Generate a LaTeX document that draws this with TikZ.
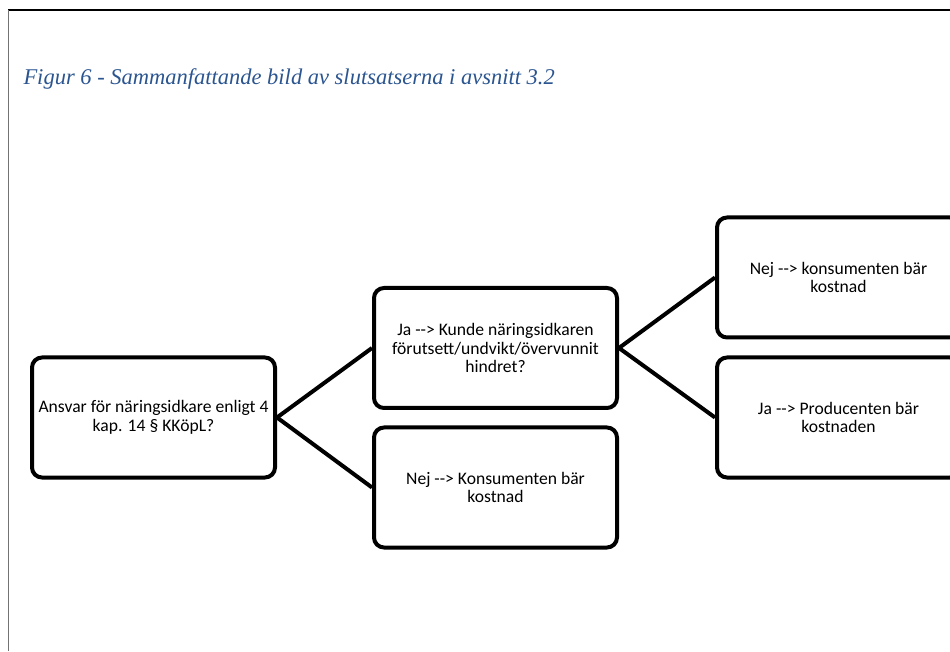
\documentclass[tikz,border=0pt]{standalone}
\usepackage{fontspec}
\setmainfont{Carlito}
\newfontfamily\captionfont{Liberation Serif}
\usepackage{tikz}
\usetikzlibrary{positioning}
\usepackage{xcolor}
\definecolor{captionblue}{HTML}{2B5590}
\newcommand{\pil}{-\kern0pt-\kern0pt>}

\begin{document}
\begin{tikzpicture}[x=1pt,y=1pt,line width=4pt,node distance=95pt]
  \tikzstyle{box}=[draw,rectangle,rounded corners=10pt,minimum width=243pt,minimum height=120pt,inner sep=2pt,align=center,font=\fontsize{17.6}{18.8}\selectfont,execute at begin node={\rule{0pt}{24pt}}]

  \useasboundingbox (0,0) rectangle (950,651);
  \draw[line width=2pt] (8,641) -- (950,641);
  \draw[line width=1.2pt,black!55] (8.6,641) -- (8.6,0);

  \node[anchor=base west,text=captionblue,font=\captionfont\itshape\fontsize{22.5}{26}\selectfont,inner sep=0pt]
    (title) at (21.5,566) {Figur 6 - Sammanfattande bild av slutsatserna i avsnitt 3.2};

  \node[box] (ansvar) at (153.5,233.5) {Ansvar för näringsidkare enligt 4\\kap. 14 § KKöpL?};
  \node[box] (kunde) [right=of ansvar,yshift=69.5pt] {Ja \pil{} Kunde näringsidkaren\\förutsett/undvikt/övervunnit\\hindret?};
  \node[box] (nejk) [right=of ansvar,yshift=-70pt] {Nej \pil{} Konsumenten bär\\kostnad};
  \node[box] (nejkons) [right=96pt of kunde,yshift=70.5pt] {Nej \pil{} konsumenten bär\\kostnad};
  \node[box] (japrod) [right=96pt of kunde,yshift=-69.5pt] {Ja \pil{} Producenten bär\\kostnaden};

  \path
  (ansvar.east) edge (kunde.west)
  (ansvar.east) edge (nejk.west)
  (kunde.east)  edge (nejkons.west)
  (kunde.east)  edge (japrod.west)
  ;
\end{tikzpicture}
\end{document}
